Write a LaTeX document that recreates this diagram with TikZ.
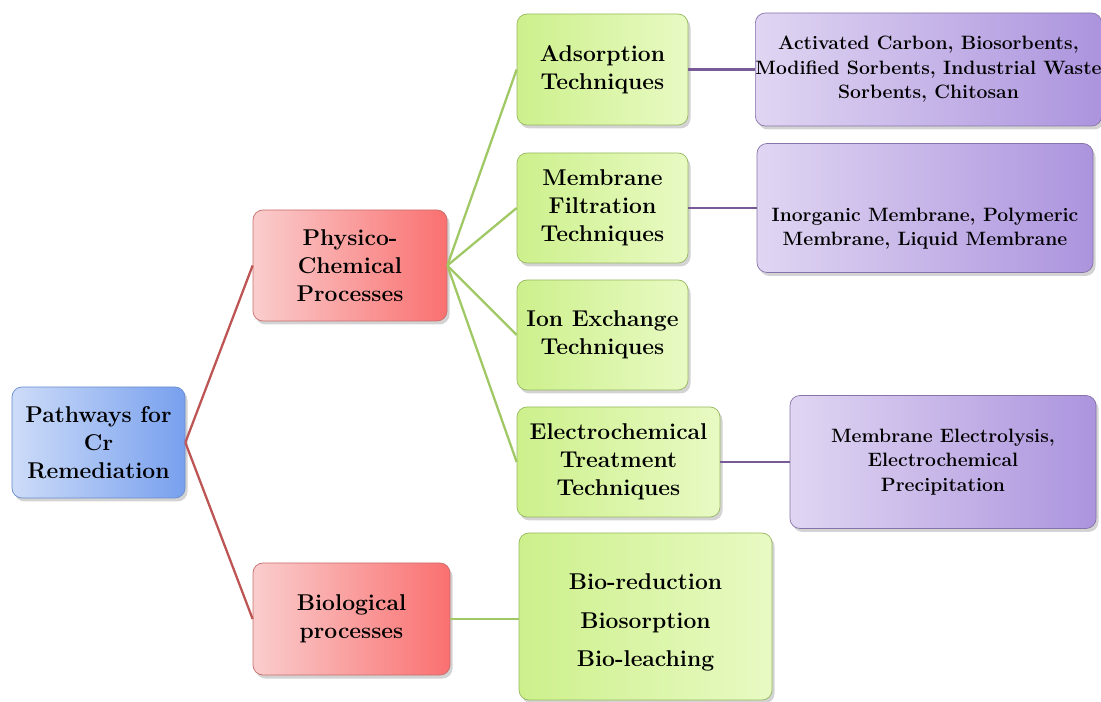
\documentclass[tikz,border=0pt]{standalone}
\usepackage{tikz}
\usetikzlibrary{shadows}

\definecolor{blueL}{RGB}{205,220,248}
\definecolor{blueR}{RGB}{120,160,238}
\definecolor{blueD}{RGB}{105,140,205}
\definecolor{redL}{RGB}{250,205,205}
\definecolor{redR}{RGB}{250,112,112}
\definecolor{redD}{RGB}{200,110,110}
\definecolor{grnL}{RGB}{205,240,140}
\definecolor{grnR}{RGB}{232,250,195}
\definecolor{grnD}{RGB}{150,185,95}
\definecolor{prpL}{RGB}{224,214,242}
\definecolor{prpR}{RGB}{172,148,222}
\definecolor{prpD}{RGB}{135,115,170}
\definecolor{lnRed}{RGB}{190,85,85}
\definecolor{lnGrn}{RGB}{160,200,100}
\definecolor{lnPrp}{RGB}{120,90,150}

\begin{document}
\begin{tikzpicture}[
		box/.style={rounded corners=0.2cm, align=center, inner sep=0pt, drop shadow={opacity=0.35, shadow xshift=0.05cm, shadow yshift=-0.07cm}, font=\fontsize{13}{16}\selectfont\bfseries},
		rootbox/.style={box, draw=blueD, left color=blueL, right color=blueR},
		procbox/.style={box, draw=redD, left color=redL, right color=redR},
		techbox/.style={box, draw=grnD, left color=grnL, right color=grnR},
		listbox/.style={box, draw=prpD, left color=prpL, right color=prpR, font=\fontsize{11}{14}\selectfont\bfseries},
		redline/.style={draw=lnRed, line width=1.3pt},
		grnline/.style={draw=lnGrn, line width=1.3pt},
		prpline/.style={draw=lnPrp, line width=1.3pt}]
		\useasboundingbox (0,0) rectangle (22.02,-14.04);
		
		% Root
		\node[rootbox, minimum width=3.46cm, minimum height=2.22cm] (root) at (1.97,-8.85) {Pathways for\\Cr\\Remediation};
		
		% Processes
		\node[procbox, minimum width=3.88cm, minimum height=2.22cm] (phys) at (7.0,-5.31) {Physico-\\Chemical\\Processes};
		\node[procbox, minimum width=3.94cm, minimum height=2.24cm] (bio) at (7.03,-12.38) {Biological\\processes};
		
		% Techniques
		\node[techbox, minimum width=3.42cm, minimum height=2.22cm] (ads) at (12.05,-1.39) {Adsorption\\Techniques};
		\node[techbox, minimum width=3.42cm, minimum height=2.2cm] (mem) at (12.05,-4.16) {Membrane\\Filtration\\Techniques};
		\node[techbox, minimum width=3.42cm, minimum height=2.2cm] (ion) at (12.05,-6.70) {Ion Exchange\\Techniques};
		\node[techbox, minimum width=4.06cm, minimum height=2.2cm] (elec) at (12.37,-9.24) {Electrochemical\\Treatment\\Techniques};
		\node[techbox, minimum width=5.06cm, minimum height=3.34cm, font=\fontsize{13}{22}\selectfont\bfseries] (biolist) at (12.91,-12.33) {\rule{0pt}{16pt}Bio-reduction\\Biosorption\\Bio-leaching};
		
		% Materials
		\node[listbox, minimum width=6.86cm, minimum height=2.26cm] (sorb) at (18.57,-1.39) {Activated Carbon, Biosorbents,\\Modified Sorbents, Industrial Waste\\Sorbents, Chitosan};
		\node[listbox, minimum width=6.72cm, minimum height=2.58cm] (memtype) at (18.50,-4.16) {\rule{0pt}{31pt}Inorganic Membrane, Polymeric\\Membrane, Liquid Membrane};
		\node[listbox, minimum width=6.12cm, minimum height=2.66cm] (electype) at (18.86,-9.24) {Membrane Electrolysis,\\Electrochemical\\Precipitation};
		
		% Root lines
		\draw[redline] (root.east) -- (phys.west);
		\draw[redline] (root.east) -- (bio.west);
		
		% Process lines
		\draw[grnline] (phys.east) -- (ads.west);
		\draw[grnline] (phys.east) -- (mem.west);
		\draw[grnline] (phys.east) -- (ion.west);
		\draw[grnline] (phys.east) -- (elec.west);
		\draw[grnline] (bio.east) -- (bio.east -| biolist.west);
		
		% Material lines
		\draw[prpline] (ads.east) -- (sorb.west);
		\draw[prpline] (mem.east) -- (memtype.west);
		\draw[prpline] (elec.east) -- (electype.west);
	\end{tikzpicture}
\end{document}
